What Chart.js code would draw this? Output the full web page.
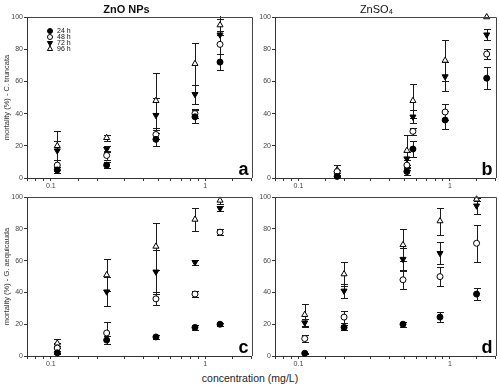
<!DOCTYPE html>
<html>
<head>
<meta charset="utf-8">
<script src="https://cdn.jsdelivr.net/npm/chart.js@4.4.1/dist/chart.umd.min.js"></script>
<style>
  body { margin: 0; background: #fff; }
  #wrap { position: relative; width: 500px; height: 387px; overflow: hidden; }
  canvas { position: absolute; }
  #xtitle { position: absolute; left: 0; width: 500px; top: 372px; text-align: center;
            font: 10.5px 'Liberation Sans', sans-serif; color: #222; }
</style>
</head>
<body>
<div id="wrap">
  <canvas id="pa" width="256" height="192" style="left:0;top:0"></canvas>
  <canvas id="pb" width="244" height="192" style="left:256px;top:0"></canvas>
  <canvas id="pc" width="256" height="180" style="left:0;top:192px"></canvas>
  <canvas id="pd" width="244" height="180" style="left:256px;top:192px"></canvas>
  <div id="xtitle">concentration (mg/L)</div>
</div>
<script>
const hours = ['24 h', '48 h', '72 h', '96 h'];

// panel a - ZnO NPs, C. truncata
const concA = [0.11, 0.23, 0.48, 0.86, 1.25];
const meanA = [
  [5, 8, 24, 38, 72],
  [8, 14, 27, 40, 83],
  [17, 18, 39, 52, 89],
  [20, 25, 48, 71, 95]
];
const sdA = [
  [2, 2, 4, 4, 5],
  [3, 3, 3, 3, 6],
  [6, 2, 11, 6, 12],
  [9, 2, 17, 13, 4]
];

// panel b - ZnSO4, C. truncata
const concB = [0.18, 0.52, 0.57, 0.93, 1.75];
const meanB = [
  [1, 4, 18, 36, 62],
  [4, 8, 29, 41, 77],
  [2, 12, 38, 63, 89],
  [5, 17, 48, 73, 100]
];
const sdB = [
  [0.5, 2, 5, 5.5, 7],
  [1, 3, 2, 5, 3],
  [1, 4, 4, 9, 3.5],
  [3, 10, 10.5, 13, 0]
];

// panel c - ZnO NPs, G. aequicauda
const concC = [0.11, 0.23, 0.48, 0.86, 1.25];
const meanC = [
  [2, 10, 12, 18, 20],
  [5, 14.5, 36, 39, 78],
  [4, 40.5, 53, 59, 93],
  [8, 51, 69, 86, 98]
];
const sdC = [
  [1, 2.5, 1, 1.5, 1],
  [3, 7, 4, 2, 2],
  [2, 9, 14, 1.5, 1.5],
  [3, 10, 15, 7, 2]
];

// panel d - ZnSO4, G. aequicauda
const concD = [0.11, 0.2, 0.49, 0.86, 1.5];
const meanD = [
  [1.7, 18, 20, 24.5, 39],
  [11, 24.5, 48, 50, 71],
  [21, 41, 61, 64.7, 94.6],
  [26, 51.6, 70, 85, 98.7]
];
const sdD = [
  [0.5, 1.5, 1.5, 3, 4],
  [2, 4, 5.5, 6, 11.5],
  [2.5, 4.5, 7, 7, 5],
  [7, 7.5, 10, 8.5, 1]
];

const yTicks = [0, 20, 40, 60, 80, 100];

const markers = [
  { style: 'circle', fill: '#000', rot: 0, r: 3 },
  { style: 'circle', fill: '#fff', rot: 0, r: 3 },
  { style: 'triangle', fill: '#000', rot: 180, r: 3.5 },
  { style: 'triangle', fill: '#fff', rot: 0, r: 3.5 }
];

const FONT = "'Liberation Sans', Arial, sans-serif";

// error bars drawn under the markers
const errorBars = {
  id: 'errorBars',
  beforeDatasetsDraw(chart) {
    const { ctx, chartArea, scales } = chart;
    ctx.save();
    ctx.beginPath();
    ctx.rect(chartArea.left, chartArea.top - 1, chartArea.width, chartArea.height + 1);
    ctx.clip();
    ctx.strokeStyle = '#1a1a1a';
    ctx.lineWidth = 1;
    chart.data.datasets.forEach(ds => {
      ds.data.forEach(p => {
        if (!p.sd) return;
        const x = Math.round(scales.x.getPixelForValue(p.x)) + 0.5;
        const y1 = Math.round(scales.y.getPixelForValue(p.y + p.sd)) + 0.5;
        const y2 = Math.round(scales.y.getPixelForValue(p.y - p.sd)) + 0.5;
        ctx.beginPath();
        ctx.moveTo(x, y1); ctx.lineTo(x, y2);
        ctx.moveTo(x - 3.5, y1); ctx.lineTo(x + 3.5, y1);
        ctx.moveTo(x - 3.5, y2); ctx.lineTo(x + 3.5, y2);
        ctx.stroke();
      });
    });
    ctx.restore();
  }
};

// top and right edge of the plot box
const frame = {
  id: 'frame',
  afterDraw(chart) {
    const { ctx, chartArea: a } = chart;
    ctx.save();
    ctx.strokeStyle = '#444';
    ctx.lineWidth = 1;
    ctx.beginPath();
    ctx.moveTo(Math.round(a.left), Math.round(a.top) + 0.5);
    ctx.lineTo(Math.round(a.right) + 0.5, Math.round(a.top) + 0.5);
    ctx.lineTo(Math.round(a.right) + 0.5, Math.round(a.bottom));
    ctx.stroke();
    ctx.restore();
  }
};

function letter(txt) {
  return {
    id: 'letter',
    afterDraw(chart) {
      const { ctx, chartArea: a } = chart;
      ctx.save();
      ctx.font = 'bold 18px ' + FONT;
      ctx.fillStyle = '#000';
      ctx.textAlign = 'right';
      ctx.textBaseline = 'alphabetic';
      ctx.fillText(txt, a.right - 3, a.bottom - 3);
      ctx.restore();
    }
  };
}

const legendBox = {
  id: 'legendBox',
  afterDraw(chart) {
    const { ctx, chartArea: a } = chart;
    ctx.save();
    ctx.font = '7px ' + FONT;
    ctx.textBaseline = 'middle';
    ctx.textAlign = 'left';
    hours.forEach((h, i) => {
      const m = markers[i];
      const x = a.left + 23;
      const y = a.top + 14 + i * 6;
      ctx.fillStyle = m.fill;
      ctx.strokeStyle = '#000';
      ctx.lineWidth = 1;
      Chart.helpers.drawPoint(ctx, { pointStyle: m.style, radius: m.r - 0.5, rotation: m.rot, borderWidth: 1 }, x, y);
      ctx.fillStyle = '#111';
      ctx.fillText(h, x + 7, y);
    });
    ctx.restore();
  }
};

function makePanel(id, conc, means, sds, opt) {
  const datasets = hours.map((h, k) => ({
    label: h,
    data: conc.map((c, i) => ({ x: c, y: means[k][i], sd: sds[k][i] })),
    pointStyle: markers[k].style,
    pointRotation: markers[k].rot,
    pointRadius: markers[k].r,
    pointHoverRadius: markers[k].r,
    backgroundColor: markers[k].fill,
    borderColor: '#000',
    borderWidth: 1,
    showLine: false,
    clip: false
  }));

  const plugins = [errorBars, frame, letter(opt.letter)];
  if (opt.legend) plugins.push(legendBox);

  new Chart(document.getElementById(id), {
    type: 'scatter',
    data: { datasets },
    plugins,
    options: {
      responsive: false,
      animation: false,
      layout: { padding: { top: opt.padTop, right: 3, left: 0, bottom: 0 } },
      plugins: {
        legend: { display: false },
        tooltip: { enabled: false },
        title: {
          display: !!opt.title,
          text: opt.title || '',
          color: '#111',
          font: { family: FONT, size: 11, weight: opt.titleWeight || 'normal', lineHeight: 1 },
          padding: { top: 4, bottom: 2 }
        }
      },
      scales: {
        x: {
          type: 'logarithmic',
          min: 0.07,
          max: 2,
          afterFit: s => { s.height = opt.xh; },
          border: { display: true, color: '#333', width: 1 },
          grid: { display: true, drawOnChartArea: false, drawTicks: true, tickLength: 3, color: '#333' },
          ticks: {
            autoSkip: false,
            maxRotation: 0,
            padding: 1,
            color: '#444',
            font: { family: FONT, size: 7 },
            callback: v => Math.abs(v - 0.1) < 1e-9 ? '0.1' : (Math.abs(v - 1) < 1e-9 ? '1' : '')
          }
        },
        y: {
          min: 0,
          max: 100,
          afterFit: s => { s.width = opt.yw; },
          afterBuildTicks: s => { s.ticks = yTicks.map(v => ({ value: v })); },
          border: { display: true, color: '#333', width: 1 },
          grid: { display: true, drawOnChartArea: false, drawTicks: true, tickLength: 3, color: '#333' },
          ticks: {
            padding: 1,
            color: '#444',
            font: { family: FONT, size: 7 }
          },
          title: {
            display: !!opt.ytitle,
            text: opt.ytitle || '',
            color: '#333',
            font: { family: FONT, size: 7.5 },
            padding: { top: 2, bottom: 0 }
          }
        }
      }
    }
  });
}

makePanel('pa', concA, meanA, sdA, {
  letter: 'a', legend: true, title: 'ZnO NPs', titleWeight: 'bold', padTop: 0,
  xh: 14, yw: 27, ytitle: 'mortality (%) - C. truncata'
});
makePanel('pb', concB, meanB, sdB, {
  letter: 'b', title: 'ZnSO\u2084', padTop: 0, xh: 14, yw: 19
});
makePanel('pc', concC, meanC, sdC, {
  letter: 'c', padTop: 4, xh: 16, yw: 27, ytitle: 'mortality (%) - G. aequicauda'
});
makePanel('pd', concD, meanD, sdD, {
  letter: 'd', padTop: 4, xh: 16, yw: 19
});
</script>
</body>
</html>
